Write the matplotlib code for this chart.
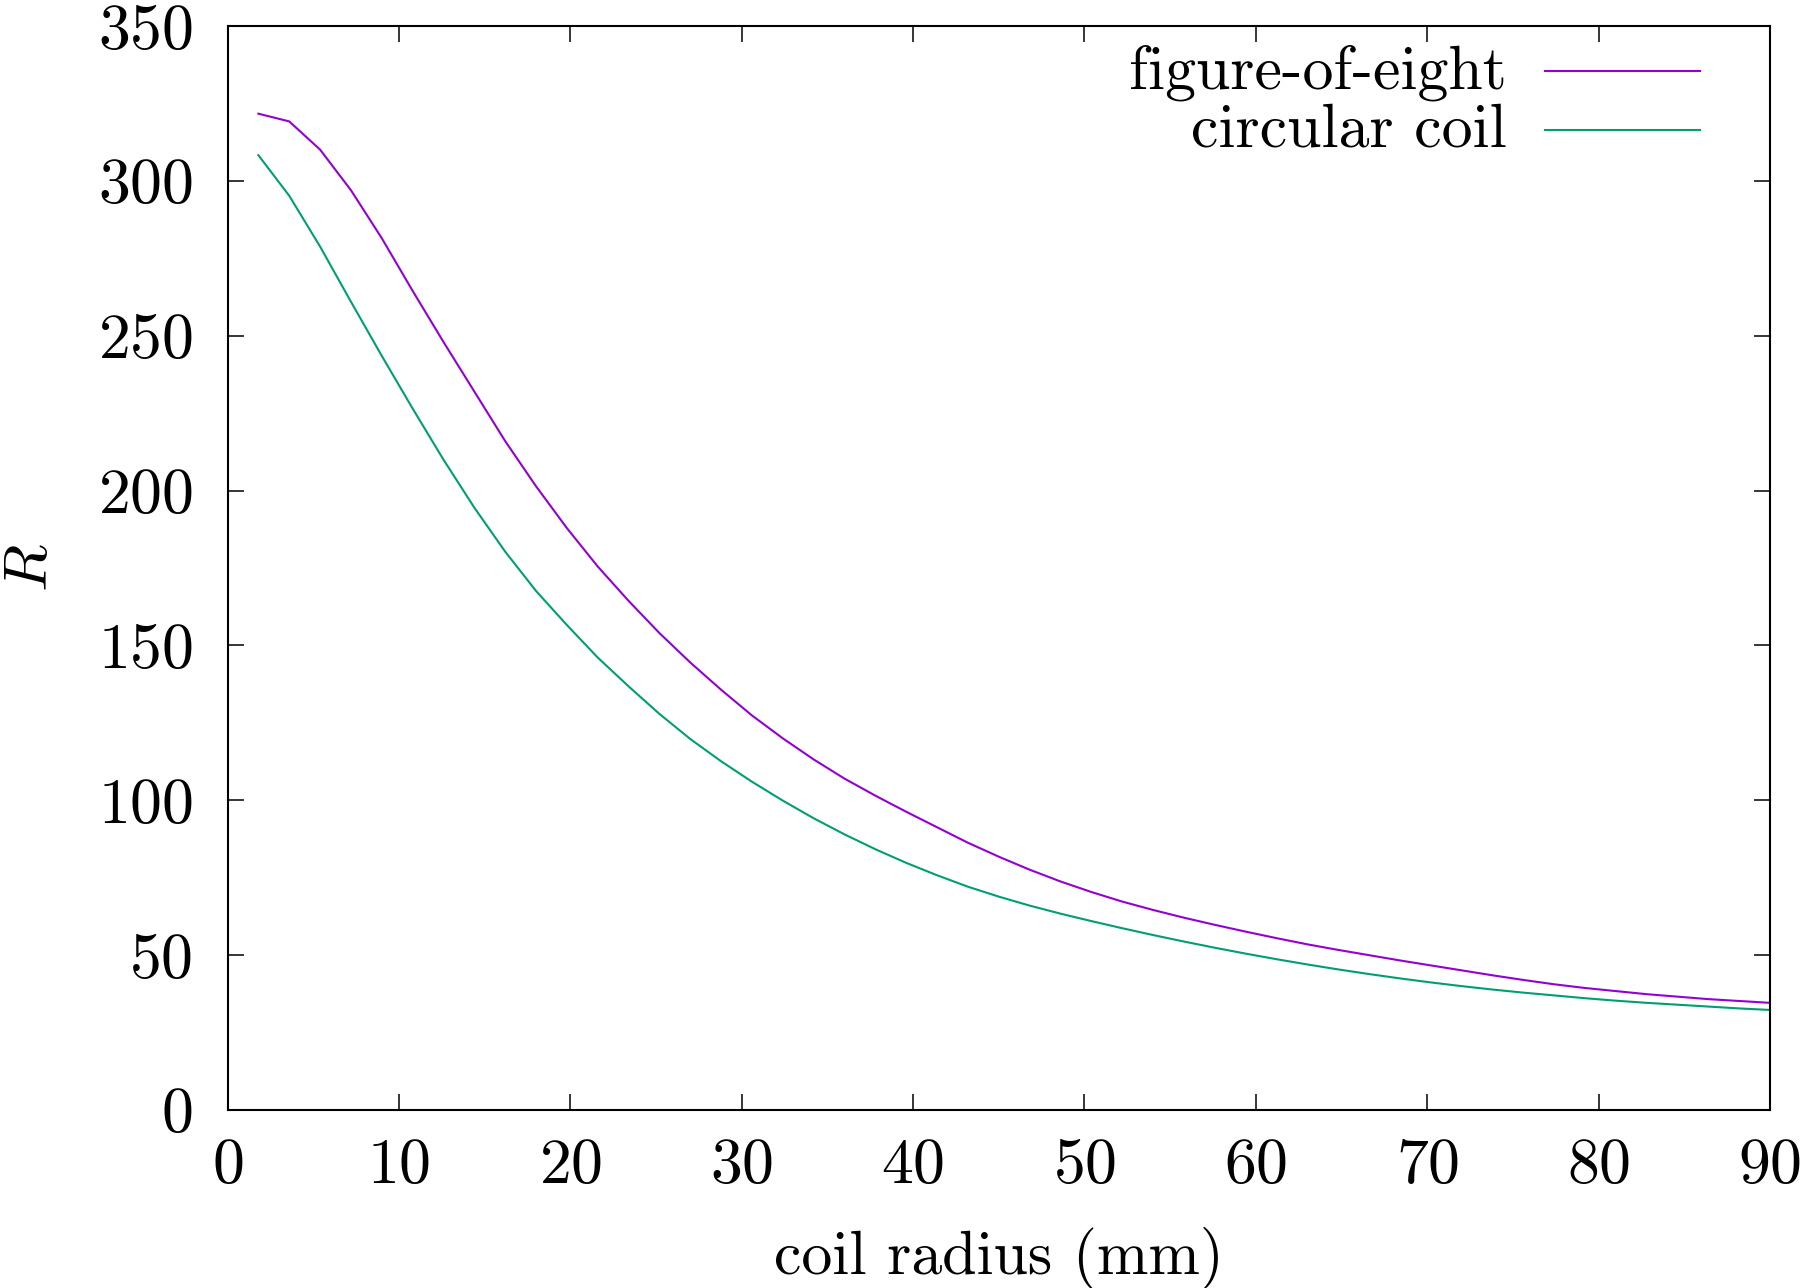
import matplotlib
matplotlib.use('Agg')
import matplotlib.pyplot as plt

# Computer Modern look (gnuplot + LaTeX style)
plt.rcParams['font.family'] = 'cmr10'
plt.rcParams['mathtext.fontset'] = 'cm'
plt.rcParams['axes.formatter.use_mathtext'] = True

# coil radius (mm)
radius = [1.8, 3.6, 5.4, 7.2, 9.0, 10.8, 12.6, 14.4, 16.2, 18.0,
          19.8, 21.6, 23.4, 25.2, 27.0, 28.8, 30.6, 32.4, 34.2, 36.0,
          37.8, 39.6, 41.4, 43.2, 45.0, 46.8, 48.6, 50.4, 52.2, 54.0,
          55.8, 57.6, 59.4, 61.2, 63.0, 64.8, 66.6, 68.4, 70.2, 72.0,
          73.8, 75.6, 77.4, 79.2, 81.0, 82.8, 84.6, 86.4, 88.2, 90.0]

# R, figure-of-eight coil
r_eight = [321.7, 319.2, 310.1, 297.0, 281.5, 264.5, 248.0, 232.0, 216.0, 201.4,
           187.9, 175.5, 164.4, 154.0, 144.5, 135.7, 127.4, 120.0, 113.2, 107.0,
           101.5, 96.3, 91.3, 86.3, 81.8, 77.6, 73.8, 70.4, 67.3, 64.6,
           62.1, 59.8, 57.6, 55.5, 53.5, 51.7, 50.0, 48.3, 46.7, 45.1,
           43.5, 42.0, 40.6, 39.4, 38.4, 37.4, 36.6, 35.8, 35.2, 34.6]

# R, circular coil
r_circ = [308.3, 295.2, 278.8, 261.0, 243.5, 226.5, 210.0, 194.5, 180.3, 167.6,
          156.6, 146.1, 136.8, 127.9, 119.8, 112.6, 106.0, 99.9, 94.2, 89.0,
          84.2, 79.8, 75.8, 72.1, 68.9, 66.0, 63.4, 61.0, 58.7, 56.5,
          54.4, 52.4, 50.5, 48.7, 47.0, 45.4, 43.9, 42.5, 41.2, 40.0,
          38.9, 37.9, 37.0, 36.1, 35.3, 34.6, 34.0, 33.4, 32.8, 32.3]

labels = ['figure-of-eight', 'circular coil']
colors = ['#9400d3', '#009e73']
xticks = [0, 10, 20, 30, 40, 50, 60, 70, 80, 90]
yticks = [0, 50, 100, 150, 200, 250, 300, 350]

fs_tick = 46
fs_text = 44.5

fig = plt.figure(figsize=(18, 12.88), dpi=100)
ax = fig.add_axes([0.1264, 0.1382, 0.8569, 0.8416])

for ys, lab, c in zip([r_eight, r_circ], labels, colors):
    ax.plot(radius, ys, color=c, lw=1.5, label=lab)

ax.set_xlim(0, 90)
ax.set_ylim(0, 350)
ax.set_xticks(xticks)
ax.set_yticks(yticks)
ax.tick_params(direction='in', length=11.5, width=1.1, top=True, right=True,
               labelsize=fs_tick)
ax.tick_params(axis='x', pad=20)
ax.tick_params(axis='y', pad=25)
for s in ax.spines.values():
    s.set_linewidth(1.5)

ax.set_xlabel('coil radius (mm)', fontsize=fs_text)
ax.xaxis.set_label_coords(0.5, -0.137)
ax.xaxis.label.set_va('center')
ax.set_ylabel(r'$R$', fontsize=fs_text)
ax.yaxis.set_label_coords(-0.127, 0.5)
ax.yaxis.label.set_va('center')

# gnuplot-style key: right-justified text, sample line on the right
key_text_y = [0.9425, 0.8893]
key_line_y = [0.9585, 0.904]
for lab, c, ty, ly in zip(labels, colors, key_text_y, key_line_y):
    ax.text(0.8295, ty, lab, transform=ax.transAxes, ha='right', va='baseline',
            fontsize=fs_text)
    ax.plot([0.8541, 0.9546], [ly, ly], transform=ax.transAxes, color=c, lw=1.5)

fig.savefig('out.png', dpi=100)
